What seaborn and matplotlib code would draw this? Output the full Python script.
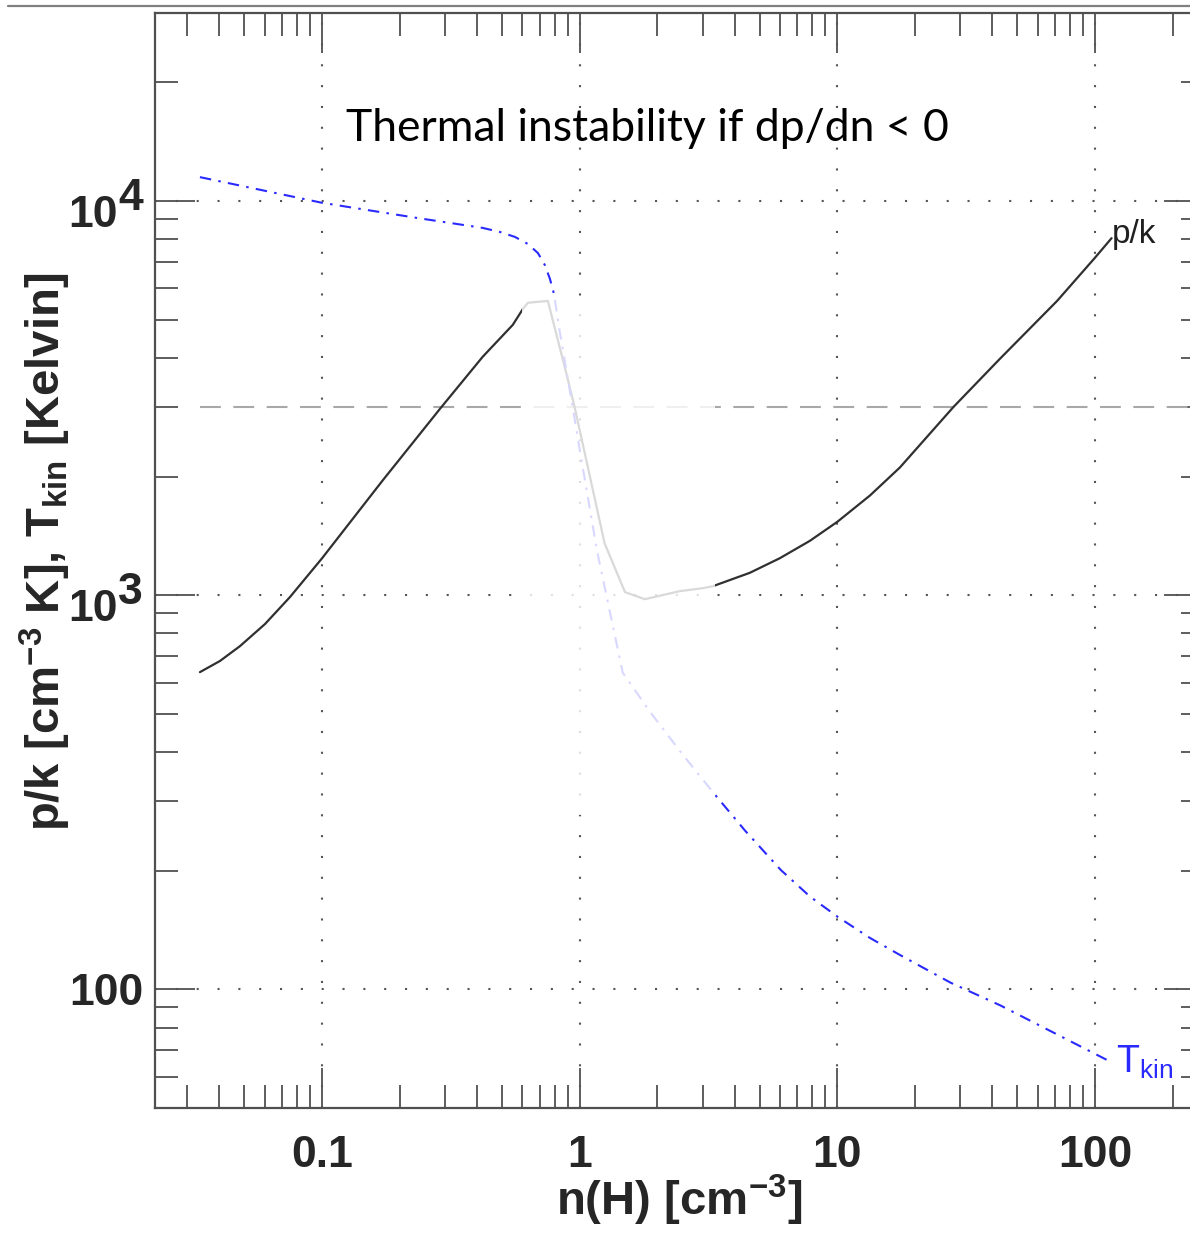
import numpy as np
import pandas as pd
import matplotlib
matplotlib.use("Agg")
import matplotlib.pyplot as plt
import seaborn as sns
from matplotlib.ticker import LogLocator, NullFormatter, FixedLocator
from matplotlib.patches import Rectangle
from matplotlib.lines import Line2D
from matplotlib.transforms import offset_copy

# ---------------- data ----------------
n_pk = [0.0336, 0.0402, 0.0481, 0.0601, 0.0752, 0.1, 0.172, 0.287, 0.421,
        0.55, 0.603, 0.63, 0.753, 0.877, 0.957, 1.25, 1.50, 1.79, 2.45,
        3.01, 3.29, 4.58, 5.98, 7.83, 10.0, 13.4, 17.5, 28.2, 42.8, 71.3,
        100.0, 116.0]
pk = [638, 681, 743, 845, 990, 1240, 1955, 2970, 4030,
      4850, 5330, 5520, 5580, 3776, 2995, 1354, 1018, 977, 1024,
      1042, 1054, 1140, 1241, 1374, 1535, 1791, 2109, 3000, 3981, 5580,
      7180, 8050]

n_tk = [0.0336, 0.1, 0.234, 0.42, 0.491, 0.561, 0.630, 0.689, 0.733,
        0.767, 0.795, 0.836, 0.94, 1.0, 1.167, 1.47, 1.875, 2.52, 3.35,
        4.38, 6.03, 7.83, 10.0, 13.4, 17.6, 27.5, 43.0, 116.0]
tkin = [11500, 9900, 9060, 8550, 8346, 8110, 7780, 7380, 6880,
        6345, 5815, 4690, 3000, 2350, 1300, 636, 506, 393, 312,
        253, 201, 172, 153, 135, 122, 104, 91, 65.3]

p_ref = 3000                      # dashed reference pressure
unstable_n = [0.595, 3.35]        # faded (unstable) density range
unstable_T = [277, 5750]

x_ticks = [0.1, 1, 10, 100]
x_ticklabels = ["0.1", "1", "10", "100"]
y_ticks = [100, 1000, 10000]

title_text = "Thermal instability if dp/dn < 0"
xlabel = r"n(H) [cm$^{-3}$]"
ylabel = r"p/k [cm$^{-3}$ K], T$_{kin}$ [Kelvin]"

# ---------------- style ----------------
sns.set_style("ticks")
plt.rcParams["font.family"] = ["Liberation Sans", "DejaVu Sans"]
plt.rcParams["mathtext.fontset"] = "custom"
plt.rcParams["mathtext.rm"] = "Liberation Sans"
plt.rcParams["mathtext.it"] = "Liberation Sans"
plt.rcParams["mathtext.bf"] = "Liberation Sans:bold"
plt.rcParams["mathtext.default"] = "regular"

W, H = 1190, 1234
fig = plt.figure(figsize=(W / 100, H / 100), dpi=100)
ax = fig.add_axes([155 / W, 1 - 1108 / H, 1049 / W, 1095 / H])
ax.set_xscale("log")
ax.set_yscale("log")
ax.set_xlim(0.02249, 265)
ax.set_ylim(50, 3.0e4)

axis_col = "#505050"

# grid (dotted at major ticks)
for xv in x_ticks:
    ax.axvline(xv, color="#555555", lw=1.5, ls=(0, (1, 9)), zorder=1)
for yv in y_ticks:
    ax.axhline(yv, color="#555555", lw=1.5, ls=(0, (1, 9)), zorder=1)

# dashed reference line
ax.hlines(p_ref, n_pk[0], 265, color="#a8a8a8", lw=1.5, ls=(0, (10, 6)), zorder=1)

df_pk = pd.DataFrame({"n": n_pk, "v": pk})
df_tk = pd.DataFrame({"n": n_tk, "v": tkin})
sns.lineplot(data=df_pk, x="n", y="v", ax=ax, color="#303030", lw=1.6,
             errorbar=None, sort=False, zorder=2)
sns.lineplot(data=df_tk, x="n", y="v", ax=ax, color="#2a2aff", lw=1.5,
             errorbar=None, sort=False, ls=(0, (5.5, 3.5, 1.2, 3.5)), zorder=2)

# faded overlay on the unstable branch
ax.add_patch(Rectangle((unstable_n[0], unstable_T[0]),
                       unstable_n[1] - unstable_n[0],
                       unstable_T[1] - unstable_T[0],
                       facecolor="white", edgecolor="none", alpha=0.82, zorder=3))

# curve labels
ax.annotate("p/k", xy=(n_pk[-1], pk[-1]), xytext=(0, 3), textcoords="offset points",
            ha="left", va="center", fontsize=24, color="#202020", zorder=5)
ax.annotate(r"T$_{kin}$", xy=(n_tk[-1], tkin[-1]), xytext=(3, 0), textcoords="offset points",
            ha="left", va="center", fontsize=27, color="#2a2aff", zorder=5)

# title-like annotation
ax.text(1.84, 1.53e4, title_text, ha="center", va="center", fontsize=32,
        family=["Lato", "DejaVu Sans"], color="black", zorder=5)

# ticks
ax.xaxis.set_major_locator(FixedLocator(x_ticks))
ax.xaxis.set_minor_locator(LogLocator(base=10, subs=np.arange(2, 10), numticks=50))
ax.xaxis.set_minor_formatter(NullFormatter())
ax.set_xticks(x_ticks, labels=x_ticklabels)
ax.yaxis.set_minor_locator(LogLocator(base=10, subs=np.arange(2, 10), numticks=50))
ax.yaxis.set_minor_formatter(NullFormatter())
ax.set_yticks(y_ticks, labels=["100", "", ""])

ax.tick_params(which="both", direction="in", top=True, right=True, color=axis_col, width=1.3)
ax.tick_params(which="major", length=29)
ax.tick_params(which="minor", length=16.5)
ax.tick_params(axis="x", which="major", pad=19.5, labelsize=32)
ax.tick_params(axis="y", which="major", pad=8.6, labelsize=32)
for lab in ax.get_xticklabels() + ax.get_yticklabels():
    lab.set_fontweight("bold")

# power-of-ten y labels drawn as base + full-size raised exponent
base_tr = ax.get_yaxis_transform()
for val, ex in [(1000, "3"), (10000, "4")]:
    ax.text(0, val, "10", transform=offset_copy(base_tr, fig=fig, x=-37, y=-14, units="dots"),
            ha="right", va="center", fontsize=32, fontweight="bold")
    ax.text(0, val, ex, transform=offset_copy(base_tr, fig=fig, x=-37, y=3, units="dots"),
            ha="left", va="center", fontsize=32, fontweight="bold")

for sp in ax.spines.values():
    sp.set_color(axis_col)
    sp.set_linewidth(1.6)

ax.set_xlabel(xlabel, fontsize=34, fontweight="bold")
ax.set_ylabel(ylabel, fontsize=34, fontweight="bold")
ax.xaxis.set_label_coords(0.5, -0.059)
ax.yaxis.set_label_coords(-0.078, 0.508)

# thin frame line at the very top of the slide
fig.add_artist(Line2D([8 / W, 1.0], [1 - 5.5 / H, 1 - 5.5 / H], color="#808080", lw=1.6))

fig.savefig("out.png", dpi=100)
